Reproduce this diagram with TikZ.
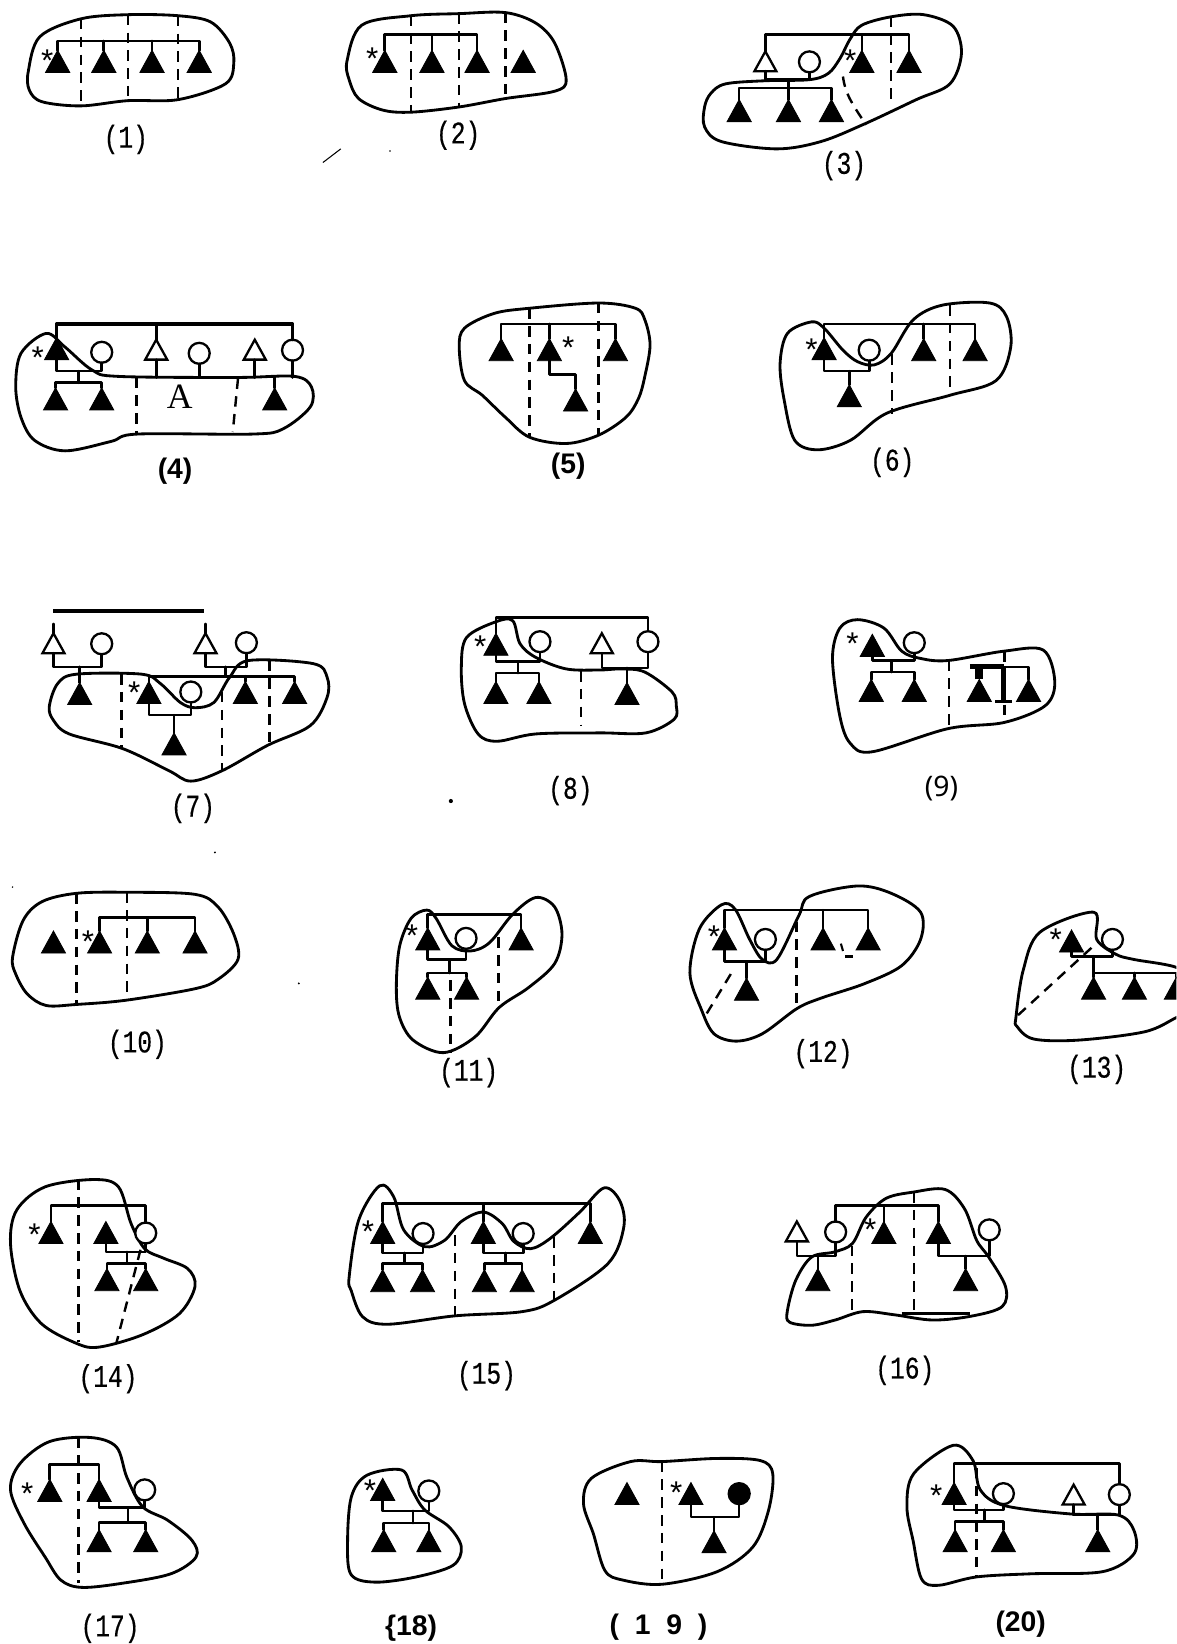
\documentclass[tikz,border=0pt]{standalone}
\usepackage{fontspec}
\usetikzlibrary{shapes.geometric}
\setmainfont{Liberation Sans}
\newfontfamily\lab[FakeStretch=0.78,FakeBold=0.4]{Liberation Mono}
\newfontfamily\thinlab{Noto Sans}
\newfontfamily\serifA{Liberation Serif}
\tikzset{
 ftri/.style={isosceles triangle,shape border rotate=90,isosceles triangle stretches,minimum width=11.5pt,minimum height=10.5pt,inner sep=0pt,outer sep=0pt,anchor=apex,fill=black,line width=.4pt,draw=black},
 otri/.style={isosceles triangle,shape border rotate=90,isosceles triangle stretches,minimum width=10.5pt,minimum height=9.5pt,inner sep=0pt,outer sep=0pt,anchor=apex,fill=white,line width=1.1pt,draw=black},
 circ/.style={circle,draw=black,fill=white,line width=1.1pt,inner sep=0pt,outer sep=0pt,minimum size=10pt},
 fcirc/.style={circ,fill=black},
 kin/.style={line width=1.25pt,line cap=round,line join=round},
 thickbar/.style={line width=1.7pt},
 blob/.style={line width=1.35pt,line join=round},
 dv/.style={line width=1.15pt,dash pattern=on 5pt off 3.5pt},
 caption/.style={font=\lab\fontsize{15}{18}\selectfont,inner sep=0pt},
 bcaption/.style={font=\bfseries\fontsize{13.5}{16}\selectfont,inner sep=0pt},
 starn/.style={font=\fontsize{15}{18}\selectfont,anchor=base,inner sep=0pt},
 speck/.style={line width=.5pt},
}
\newcommand\mT[3]{\node[ftri] (#1) at (#2,#3) {};}
\newcommand\mO[3]{\node[otri] (#1) at (#2,#3) {};}
\newcommand\mC[3]{\node[circ] (#1) at (#2,#3) {};}
\newcommand\mF[3]{\node[fcirc] (#1) at (#2,#3) {};}
\newcommand\hb[3]{\draw[kin] (#2) -- (#2 |- 0,#1) -- (#3 |- 0,#1) -- (#3);}
\newcommand\dr[2]{\draw[kin] (#2) -- (#2 |- 0,#1);}
\newcommand\br[3]{\coordinate (brA) at (#1,#2);\coordinate (brB) at (#1,#3);\draw[kin] (brA) -- (brB);}
\newcommand\mS[3]{\node[starn] (#1) at (#2,#3+16) {*};}
\newcommand\dv[3]{\draw[dv] (#1,#2) -- (#1,#3);}
\newcommand\blobpath[1]{\draw[blob] plot[smooth cycle,tension=.55] coordinates {#1};}
\begin{document}
\begin{tikzpicture}[x=.5pt,y=-.5pt]
\clip (0,0) rectangle (1122,1568);
\fill[white] (0,0) rectangle (1122,1568);
% (1)
\blobpath{(27,68)(38,35)(77,18)(122,14)(170,15)(201,21)(219,41)(223,60)(215,80)(170,95)(122,96)(77,101)(40,97)(28,86)}
\dv{77}{18}{101}\dv{122}{14}{96}\dv{170}{15}{95}
\mT{a1}{55}{48}\mT{a2}{99}{48}\mT{a3}{145}{48}\mT{a4}{190}{48}
\hb{39}{a1.apex}{a4.apex}\dr{39}{a2.apex}\dr{39}{a3.apex}
\mS{as}{45}{52}
\node[caption] (la) at (120,133) {(1)};
% (2)
\blobpath{(331,58)(345,24)(392,15)(438,13)(482,12)(511,22)(529,41)(540,76)(529,87)(482,94)(438,102)(392,107)(365,105)(342,94)(333,76)}
\dv{392}{15}{107}\dv{438}{13}{102}\dv{482}{12}{94}
\mT{b1}{367}{48}\mT{b2}{412}{48}\mT{b3}{455}{48}\mT{b4}{499}{48}
\hb{33}{b1.apex}{b3.apex}\dr{33}{b2.apex}
\mS{bs}{355}{50}
\node[caption] (lb) at (437,129) {(2)};
\draw[speck] (308,155) -- (325,142);
\fill (372,144) circle (.8);
% (3)
\blobpath{(672,102)(672,121)(688,135)(741,142)(783,135)(825,118)(874,95)(906,80)(917,51)(909,25)(881,14)(850,16)(822,24)(811,37)(801,56)(790,70)(772,76)(730,77)(692,80)(678,89)}
\dv{850}{16}{100}
\draw[dv] (804,73) .. controls (806,89) and (812,98) .. (826,119);
\mO{c1}{730}{49}\mC{c2}{772}{59}
\mT{c3}{822}{48}\mT{c4}{867}{48}
\mT{c5}{705}{95}\mT{c6}{752}{95}\mT{c7}{793}{95}
\hb{33}{c1.apex}{c4.apex}\dr{33}{c3.apex}
\hb{76}{c1.lower side}{c2.south}
\hb{84}{c5.apex}{c7.apex}\dr{84}{c6.apex}
\br{752}{76}{84}
\mS{cs}{811}{52}
\node[caption] (lc) at (805,158) {(3)};
% (4)
\blobpath{(15,369)(20,337)(44,318)(62,331)(88,353)(113,359)(226,360)(281,359)(297,369)(296,388)(270,409)(241,414)(131,414)(106,421)(62,430)(33,420)(20,398)}
\dv{130}{360}{414}
\draw[dv] (227,361) -- (222,412);
\mT{d1}{54}{322}\mC{d2}{97}{336}
\mO{d3}{149}{324}\mC{d4}{190}{337}\mO{d5}{243}{324}\mC{d6}{279}{334}
\mT{d7}{53}{370}\mT{d8}{97}{370}\mT{d9}{262}{370}
\draw[kin,thickbar] (d1.apex) -- (d1.apex |- 0,309) -- (d6.north |- 0,309) -- (d6.north);
\dr{309}{d3.apex}
\hb{354}{d1.lower side}{d2.south}
\hb{365}{d7.apex}{d8.apex}
\br{75}{354}{365}
\dr{360}{d3.lower side}\dr{360}{d4.south}\dr{360}{d5.lower side}\dr{360}{d6.south}\dr{360}{d9.apex}
\mS{ds}{36}{335}
\node[font=\serifA\fontsize{17}{20}\selectfont,inner sep=0pt] (dA) at (171.5,378) {A};
\node[bcaption] (ld) at (167,449) {(4)};
% (5)
\blobpath{(438,331)(443,313)(471,299)(505,294)(571,289)(606,294)(615,305)(620,329)(615,359)(609,380)(597,398)(571,415)(540,423)(505,417)(482,398)(460,377)(443,363)}
\dv{505}{294}{417}\dv{571}{289}{415}
\mT{e1}{478}{323}\mT{e2}{524}{323}\mT{e3}{587}{323}\mT{e4}{549}{371}
\hb{309}{e1.apex}{e3.apex}\dr{309}{e2.apex}
\hb{357}{e2.lower side}{e4.apex}
\mS{es}{542}{326}
\node[bcaption] (le) at (542,445) {(5)};
% (6)
\blobpath{(744,347)(751,318)(774,307)(786,313)(804,334)(818,345)(834,348)(850,337)(871,305)(899,291)(944,289)(960,302)(964,331)(950,363)(906,377)(846,394)(811,420)(780,429)(758,420)(748,382)}
\dv{851}{338}{395}\dv{906}{291}{377}
\mT{f1}{786}{322}\mT{f2}{881}{323}\mT{f3}{930}{323}\mT{f4}{810}{367}\mC{f5}{829}{334}
\hb{309}{f1.apex}{f3.apex}\dr{309}{f2.apex}
\hb{354}{f1.lower side}{f5.south}\dr{354}{f4.apex}
\mS{fs}{774}{328}
\node[caption] (lf) at (851,441) {(6)};
% (7)
\draw[thickbar,line width=1.9pt] (51,583) -- (195,583);
\blobpath{(47,674)(55,652)(73,643)(135,643)(153,652)(172,670)(186,675)(204,670)(219,646)(237,630)(299,633)(312,646)(312,665)(296,692)(255,711)(212,735)(182,745)(161,735)(117,714)(66,700)(51,687)}
\dv{116}{643}{714}\dv{212}{660}{735}\dv{257}{630}{710}
\mO{g1}{51}{604}\mC{g2}{97}{614}\mO{g3}{196}{604}\mC{g4}{235}{613}
\mT{g5}{76}{651}\mT{g6}{142}{650}\mT{g7}{234}{650}\mT{g8}{281}{650}\mC{g9}{182}{660}\mT{g10}{166}{699}
\coordinate (g1t) at (51,595);\coordinate (g3t) at (196,595);
\draw[kin] (g1t) -- (g1.apex);\draw[kin] (g3t) -- (g3.apex);
\hb{636}{g1.lower side}{g2.south}\dr{636}{g5.apex}
\hb{636}{g3.lower side}{g4.south}
\hb{645}{g6.apex}{g8.apex}\dr{645}{g7.apex}
\br{215}{636}{645}
\hb{682}{g6.lower side}{g9.south}\dr{682}{g10.apex}
\mS{gs}{128}{655}
\node[caption] (lg) at (184,771) {(7)};
% (8)
\blobpath{(440,636)(445,608)(473,593)(489,592)(496,614)(511,627)(540,638)(572,639)(593,638)(615,641)(641,660)(645,673)(643,686)(616,699)(572,699)(511,700)(474,707)(456,700)(443,671)}
\dv{554}{640}{692}
\mT{h1}{473}{604}\mC{h2}{515}{612}\mO{h3}{574}{604}\mC{h4}{618}{612}
\mT{h5}{473}{650}\mT{h6}{514}{650}\mT{h7}{598}{651}
\hb{589}{h1.apex}{h4.north}
\hb{631}{h1.lower side}{h2.south}
\hb{642}{h5.apex}{h6.apex}\br{494}{631}{642}
\hb{637}{h3.lower side}{h4.south}\dr{637}{h7.apex}
\mS{hs}{458}{611}
\node[caption] (lh) at (544,754) {(8)};
\fill (430,764) circle (2);
\fill (205,813) circle (1);
\fill (285,938) circle (1);
\fill (12,846) circle (.8);
% (9)
\blobpath{(794,628)(801,599)(818,591)(843,599)(860,621)(878,628)(904,630)(958,621)(995,620)(1006,650)(997,673)(958,689)(904,695)(832,717)(811,709)(801,683)}
\dv{905}{630}{695}\dv{958}{621}{689}
\mT{i1}{832}{605}\mC{i2}{872}{613}\mT{i3}{831}{648}\mT{i4}{872}{648}\mT{i5}{934}{648}\mT{i6}{981}{648}
\hb{630}{i1.lower side}{i2.south}
\hb{641}{i3.apex}{i4.apex}\br{850}{630}{641}
\draw[line width=4pt] (i5.apex) -- (i5.apex |- 0,636);
\draw[line width=2.4pt] (925,636) -- (958,636);
\draw[line width=2.6pt] (957,636) -- (957,669);
\draw[line width=1.1pt] (949,669) -- (965,669);
\draw[kin] (958,636) -- (981,636) -- (i6.apex);
\mS{is}{813}{608}
\node[font=\thinlab\fontsize{13.5}{16}\selectfont,inner sep=0pt] (li) at (898,752) {(9)};
% (10)
\blobpath{(12,913)(22,878)(40,860)(73,852)(122,851)(186,853)(208,865)(223,891)(227,915)(208,934)(186,943)(120,954)(73,958)(44,959)(26,948)(15,929)}
\dv{73}{852}{958}\dv{121}{851}{954}
\mT{j1}{51}{888}\mT{j2}{95}{888}\mT{j3}{140.5}{888}\mT{j4}{186}{888}
\hb{875}{j2.apex}{j4.apex}\dr{875}{j3.apex}
\mS{js}{84}{892}
\node[caption] (lj) at (131,996) {(10)};
% (11)
\blobpath{(378,942)(381,903)(392,876)(407,868)(416,876)(431,902)(449,907)(467,899)(489,872)(511,856)(529,865)(536,891)(529,919)(504,942)(476,961)(453,989)(423,1004)(394,992)(381,970)}
\dv{429.5}{935}{1004}\dv{475.6}{894}{961}
\mT{k1}{408}{885}\mT{k2}{497}{885}\mC{k3}{444.5}{895}\mT{k4}{408}{932}\mT{k5}{445}{932}
\hb{872}{k1.apex}{k2.apex}
\hb{915}{k1.lower side}{k3.south}
\hb{928}{k4.apex}{k5.apex}\br{429}{915}{928}
\mS{ks}{393}{887}
\node[caption] (lk) at (447,1023) {(11)};
% (12)
\blobpath{(658,928)(667,886)(688,863)(701,867)(715,896)(727,915)(741,915)(762,873)(772,855)(818,845)(850,852)(878,870)(878,896)(860,921)(825,938)(783,952)(760,962)(727,986)(702,993)(681,986)(669,963)}
\draw[dv] (759.5,879) -- (759.5,960);
\draw[dv] (697,929) -- (672,970);
\mT{l1}{691}{885}\mT{l2}{785}{885}\mT{l3}{828}{885}\mT{l4}{712}{933}\mC{l5}{730}{896}
\hb{868}{l1.apex}{l3.apex}\dr{868}{l2.apex}
\hb{917}{l1.lower side}{l5.south}\dr{917}{l4.apex}
\mS{ls}{681}{888}
\draw[line width=1pt] (802,900) -- (804,907);
\draw[line width=1.6pt] (806,912) -- (814,912);
\node[caption] (ll) at (785,1005) {(12)};
% (13)
\blobpath{(969,970)(976,925)(992,889)(1043,870)(1046,896)(1064,910)(1081,915)(1123,923)(1145,940)(1145,960)(1123,970)(1092,984)(1029,992)(986,991)(970,979)}
\draw[dv] (1041,904) -- (969,970);
\mT{m1}{1022}{887}\mC{m2}{1061}{896}\mT{m3}{1043}{932}\mT{m4}{1082}{932}\mT{m5}{1122}{932}
\hb{912}{m1.lower side}{m2.south}
\hb{928}{m3.apex}{m5.apex}\dr{928}{m4.apex}\br{1043}{912}{928}
\mS{ms}{1007}{891}
\node[caption] (lm) at (1046,1020) {(13)};
% (14)
\blobpath{(10,1186)(16,1154)(43,1132)(89.5,1125)(113,1132)(125,1167)(138,1191)(156,1200)(179,1210)(186,1227)(171,1253)(136,1273)(93,1285)(70,1280)(39,1262)(19,1231)}
\dv{75}{1125}{1280}
\draw[dv] (134,1192) -- (111,1281);
\mT{n1}{48.6}{1165}\mT{n2}{101}{1165}\mC{n3}{139}{1176}\mT{n4}{102}{1210}\mT{n5}{139}{1210}
\hb{1150}{n1.apex}{n3.north}
\hb{1194}{n2.lower side}{n3.south}
\hb{1205}{n4.apex}{n5.apex}\br{121}{1194}{1205}
\mS{ns}{33}{1172}
\node[caption] (ln) at (103,1315) {(14)};
% (15)
\blobpath{(333,1218)(342,1164)(362,1131)(375.5,1141.5)(385,1173)(405,1189)(424,1183)(440,1165)(461,1156)(479,1167)(490,1184)(506,1191)(525,1181)(553,1156)(576,1133)(591,1145)(595,1170)(580,1205)(529,1240)(498,1251)(434,1255)(370,1263)(346,1256)(335,1231)}
\dv{434}{1178}{1255}\dv{528.5}{1180}{1240}
\mT{o1}{365}{1165}\mT{o2}{461}{1165}\mT{o3}{563}{1165}\mC{o4}{403.5}{1176.5}\mC{o5}{499}{1176.5}
\mT{o6}{365}{1211}\mT{o7}{403}{1211}\mT{o8}{462}{1211}\mT{o9}{498}{1211}
\hb{1148}{o1.apex}{o3.apex}\dr{1148}{o2.apex}
\hb{1195}{o1.lower side}{o4.south}\hb{1195}{o2.lower side}{o5.south}
\hb{1205}{o6.apex}{o7.apex}\hb{1205}{o8.apex}{o9.apex}
\br{386}{1195}{1205}\br{482}{1195}{1205}
\mS{os}{351}{1169}
\node[caption] (lo) at (464,1312) {(15)};
% (16)
\blobpath{(751,1250)(759,1221)(774,1199)(796,1194)(813,1186)(826,1161)(845,1143)(871,1137)(901.5,1134.5)(920,1153)(931.5,1183)(943,1199)(959,1227)(956,1246)(928,1255)(890,1259)(853,1254)(823,1251)(796.5,1259)(774,1264)(753,1261)}
\draw[line width=1.3pt] (860,1253) -- (925,1253);
\dv{812.6}{1188}{1251}\dv{871.5}{1137}{1252}
\mO{p1}{760}{1165}\mC{p2}{797}{1175}\mT{p3}{843}{1165}\mT{p4}{895}{1165}\mC{p5}{943.5}{1173}\mT{p6}{780}{1210}\mT{p7}{921}{1210}
\hb{1150}{p2.north}{p4.apex}\dr{1150}{p3.apex}
\hb{1198}{p1.lower side}{p2.south}\dr{1198}{p6.apex}
\hb{1198}{p4.lower side}{p5.south}\dr{1198}{p7.apex}
\mS{ps}{830}{1167}
\node[caption] (lp) at (863,1307) {(16)};
% (17)
\blobpath{(10,1421)(19,1396)(47,1375)(86,1371)(111,1380)(121,1409)(136,1437)(160,1450)(183,1469)(187,1485)(163,1501)(117,1510)(78,1514)(58,1507)(43,1485)(23,1453)}
\dv{75}{1371}{1510}
\mT{q1}{47.5}{1411}\mT{q2}{94.5}{1411}\mC{q3}{138}{1421}\mT{q4}{94.5}{1459}\mT{q5}{139}{1459}
\hb{1396.6}{q1.apex}{q2.apex}
\hb{1438}{q2.lower side}{q3.south}
\hb{1452}{q4.apex}{q5.apex}\br{122}{1438}{1452}
\mS{qs}{26}{1419}
\node[caption] (lq) at (105,1553) {(17)};
% (18)
\blobpath{(335,1428)(350,1407)(383,1402)(393,1421)(405,1440)(428,1456)(440,1475.5)(432,1493)(397,1504)(358,1509)(335,1502)(331.5,1472)}
\mT{r1}{365}{1410}\mC{r2}{409}{1422}\mT{r3}{366}{1459}\mT{r4}{409}{1459}
\hb{1441}{r1.lower side}{r2.south}
\hb{1452.6}{r3.apex}{r4.apex}\br{394}{1441}{1452.6}
\mS{rs}{353}{1416}
\node[bcaption] (lr) at (392,1553) {\{18)};
% (19)
\blobpath{(556.5,1434)(564,1410)(601.5,1394)(631.5,1394)(684,1391)(725,1393)(737,1405.5)(733,1440.5)(718,1475.5)(684,1499)(631.5,1511)(594,1507)(577,1498)(566,1463)}
\dv{631.5}{1394}{1511}
\mT{s1}{598}{1414}\mT{s2}{659}{1414}\mF{s3}{705}{1424.6}\mT{s4}{681}{1460}
\hb{1447}{s2.lower side}{s3.south}\dr{1447}{s4.apex}
\mS{ss}{645}{1418}
\node[bcaption] (ls) at (628,1552) {(\ \ 1\ \ 9\ \ )};
% (20)
\blobpath{(865,1437)(871.5,1405.5)(909,1378.5)(928,1393)(935,1421)(958,1436)(1021.5,1444)(1066.5,1445)(1081.5,1459.6)(1081.5,1482)(1051.5,1499)(984,1501)(931.5,1504)(895,1512)(879,1506)(871,1470)}
\dv{931.5}{1400}{1503}
\mT{u1}{910}{1414}\mC{u2}{957}{1424.6}\mO{u3}{1024}{1416}\mC{u4}{1067.6}{1425.5}
\mT{u5}{911}{1459}\mT{u6}{957}{1459}\mT{u7}{1047}{1459}
\hb{1396}{u1.apex}{u4.north}
\hb{1440}{u1.lower side}{u2.south}
\hb{1451}{u5.apex}{u6.apex}\br{939}{1440}{1451}
\hb{1445}{u3.lower side}{u4.south}\dr{1445}{u7.apex}
\mS{us}{893}{1421}
\node[bcaption] (lu) at (973.5,1549) {(20)};
\end{tikzpicture}
\end{document}
